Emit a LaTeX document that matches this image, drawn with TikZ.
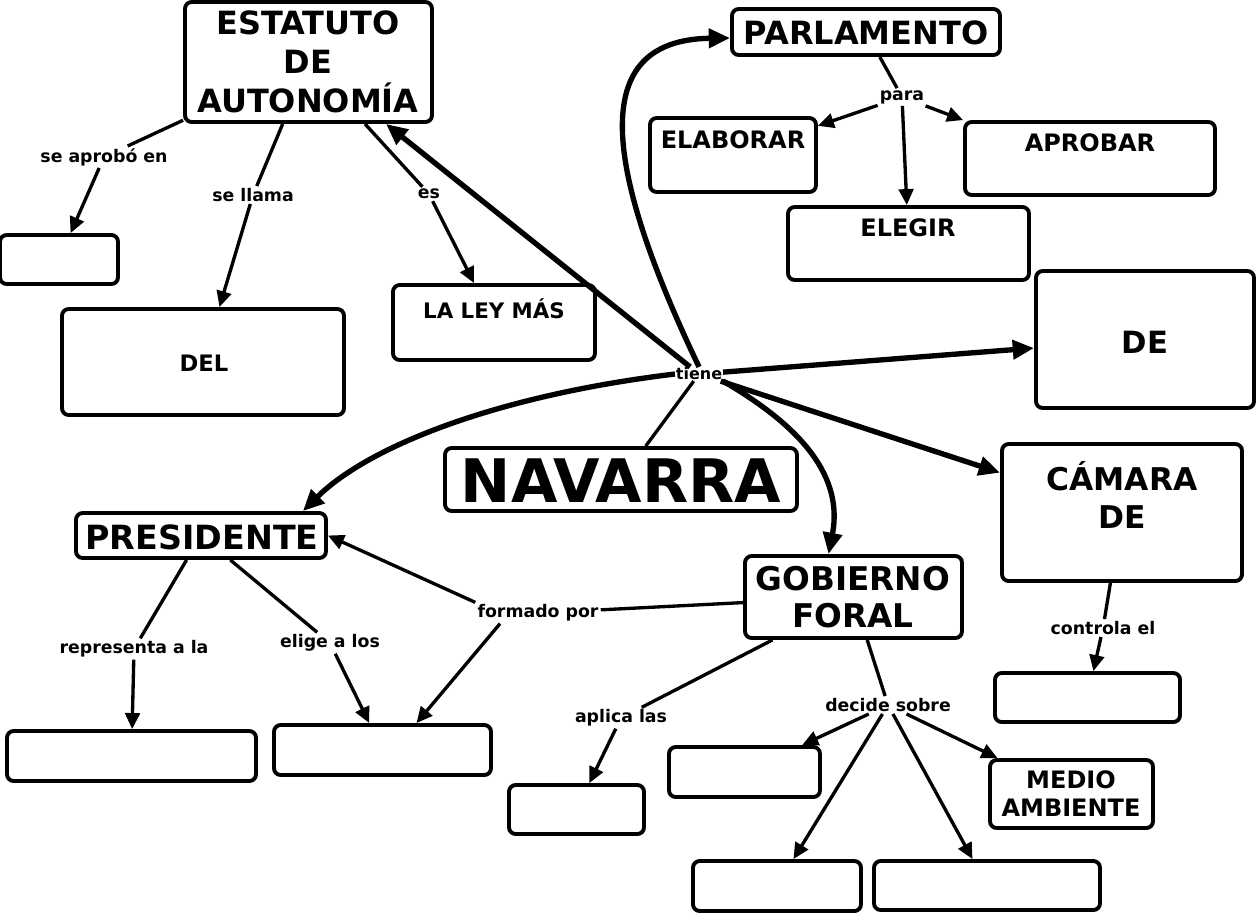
\documentclass[tikz,border=0pt]{standalone}
\usepackage{fontspec}
\setmainfont{DejaVu Sans}
\usetikzlibrary{arrows.meta,fit,calc}
\newcommand\myfs[2]{\fontsize{#1}{#2}\selectfont}
\begin{document}
\begin{tikzpicture}[x=0.75pt,y=-0.75pt,
 box/.style={draw, line width=2.9pt, rounded corners=5pt, inner sep=0pt, fill=white},
 txt/.style={align=center, inner sep=0pt},
 lbl/.style={font=\bfseries\myfs{13}{15}, inner sep=1.5pt},
 conn/.style={line width=2.5pt},
 arr/.style={line width=2.5pt, -{Triangle[length=12pt,width=11pt]}},
 big/.style={line width=4pt, -{Triangle[length=16pt,width=14pt]}}
 ]
\useasboundingbox (0,0) rectangle (1257,915);
% boxes
\node[box, fit={(185,2) (432,122)}] (estatuto) {};
\node[box, fit={(732,9) (1000,55)}] (parlamento) {};
\node[box, fit={(650,118) (816,192)}] (elaborar) {};
\node[box, fit={(965,122) (1215,195)}] (aprobar) {};
\node[box, fit={(788,207) (1029,280)}] (elegir) {};
\node[box, fit={(1036,271) (1254,408)}] (debox) {};
\node[box, fit={(0,235) (118,284)}] (bAprob) {};
\node[box, fit={(62,309) (344,415)}] (del) {};
\node[box, fit={(393,285) (595,360)}] (ley) {};
\node[box, fit={(445,448) (797,511)}] (navarra) {};
\node[box, fit={(76,513) (326,558)}] (presidente) {};
\node[box, fit={(1002,444) (1242,581)}] (camara) {};
\node[box, fit={(745,556) (962,638)}] (gobierno) {};
\node[box, fit={(995,673) (1180,722)}] (bControl) {};
\node[box, fit={(7,731) (256,781)}] (bRepr) {};
\node[box, fit={(274,725) (491,775)}] (bElige) {};
\node[box, fit={(509,785) (644,834)}] (bAplica) {};
\node[box, fit={(669,747) (820,797)}] (bDec1) {};
\node[box, fit={(990,760) (1153,828)}] (medio) {};
\node[box, fit={(693,861) (861,911)}] (bDec2) {};
\node[box, fit={(874,861) (1100,910)}] (bDec3) {};
% box texts
\node[txt, font=\bfseries\myfs{24}{29}] (estT) at (308,62) {ESTATUTO\\DE\\AUTONOMÍA};
\node[txt, font=\bfseries\myfs{24}{29}] (parT) at (866,33) {PARLAMENTO};
\node[txt, font=\bfseries\myfs{18}{21}] (elabT) at (733,140) {ELABORAR};
\node[txt, font=\bfseries\myfs{18}{21}] (aprT) at (1090,143) {APROBAR};
\node[txt, font=\bfseries\myfs{18}{21}] (elegT) at (908,228) {ELEGIR};
\node[txt, font=\bfseries\myfs{23}{27}] (deT) at (1145,342) {DE};
\node[txt, font=\bfseries\myfs{17}{20}] (delT) at (204,363) {DEL};
\node[txt, font=\bfseries\myfs{16}{19}] (leyT) at (494,309) {LA LEY MÁS};
\node[txt, font=\bfseries\myfs{45}{50}] (navT) at (621,481) {NAVARRA};
\node[txt, font=\bfseries\myfs{25}{29}] (presT) at (202,537) {PRESIDENTE};
\node[txt, font=\bfseries\myfs{23.5}{28.5}] (camT) at (1122,495) {CÁMARA\\DE};
\node[txt, font=\bfseries\myfs{24.5}{28}] (gobT) at (853,597) {GOBIERNO\\FORAL};
\node[txt, font=\bfseries\myfs{18}{21}] (medT) at (1071,794) {MEDIO\\AMBIENTE};
% labels
\node[lbl] (seaprob) at (104,157) {se aprobó en};
\node[lbl] (sellama) at (253,195) {se llama};
\node[lbl] (es) at (429,194) {es};
\node[lbl, font=\bfseries\myfs{12}{14}, inner sep=0.5pt] (tiene) at (699,374) {tiene};
\node[lbl] (para) at (902,97) {para};
\node[lbl] (repr) at (134,649) {representa a la};
\node[lbl] (elige) at (330,643) {elige a los};
\node[lbl] (formado) at (538,613) {formado por};
\node[lbl] (aplica) at (621,718) {aplica las};
\node[lbl] (decide) at (888,705) {decide sobre};
\node[lbl] (controla) at (1103,628) {controla el};
% connectors
\draw[conn] (estatuto) -- (seaprob);
\draw[arr] (seaprob) -- (bAprob);
\draw[conn] (estatuto) -- (sellama);
\draw[arr] (sellama) -- (del);
\draw[conn] (estatuto) -- (es);
\draw[arr] (es) -- (ley);
\draw[conn] (navarra) -- (tiene);
\draw[big] (tiene) -- (estatuto);
\draw[big] (tiene.north) .. controls (605,170) and (585,40) .. ($(parlamento.west)+(0,6)$);
\draw[big] (tiene) -- (debox);
\draw[big] (tiene) -- (camara);
\draw[big] (tiene.south east) .. controls (790,420) and (845,470) .. ($(gobierno.north)+(-25,0)$);
\draw[big] (tiene.west) .. controls (500,395) and (370,445) .. ($(presidente.north east)+(-25,0)$);
\draw[conn] (parlamento) -- (para);
\draw[arr] (para) -- (elaborar);
\draw[arr] (para) -- (elegir);
\draw[arr] (para) -- (aprobar.north west);
\draw[conn] (presidente) -- (repr);
\draw[arr] (repr) -- (bRepr);
\draw[conn] (presidente) -- (elige);
\draw[arr] (elige) -- (bElige);
\draw[conn] (gobierno) -- (formado);
\draw[arr] (formado.north west) -- (presidente.east);
\draw[arr] ($(formado.south)+(-38,0)$) -- ($(bElige.north)+(34,0)$);
\draw[conn] ($(gobierno.south)+(-81,0)$) -- (aplica);
\draw[arr] (aplica) -- (bAplica);
\draw[conn] (gobierno) -- (decide);
\draw[arr] (decide) -- (bDec1);
\draw[arr] (decide) -- (bDec2);
\draw[arr] (decide) -- (bDec3);
\draw[arr] (decide) -- (medio);
\draw[conn] (camara) -- (controla);
\draw[arr] (controla) -- (bControl);
\end{tikzpicture}
\end{document}
